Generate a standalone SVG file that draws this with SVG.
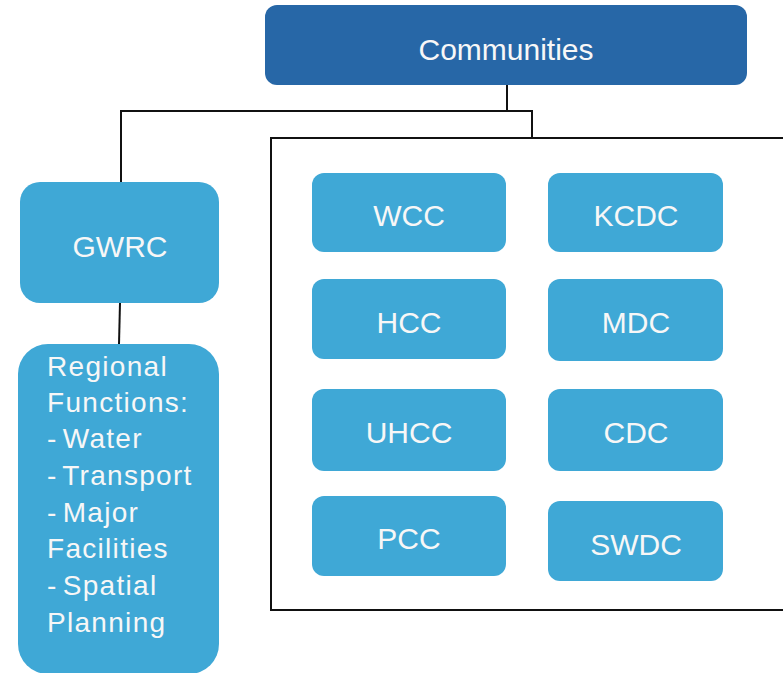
<svg xmlns="http://www.w3.org/2000/svg" width="783" height="673" viewBox="0 0 783 673">
<style>
.lb{fill:#3fa8d6}
.db{fill:#2767a7}
.t{font-family:"Liberation Sans",Arial,sans-serif;font-size:30px;fill:#f7f7f7;text-anchor:middle}
.rt{font-family:"Liberation Sans",Arial,sans-serif;font-size:28px;fill:#f7f7f7;letter-spacing:1.3px;word-spacing:-4px}
.ln{stroke:#111;stroke-width:2;fill:none}
</style>
<rect width="783" height="673" fill="#fff"/>
<g id="connectors">
<polyline class="ln" points="507,85 507,111"/>
<polyline class="ln" points="121,182 121,111 532,111 532,138"/>
<line class="ln" x1="120" y1="303" x2="119" y2="344"/>
</g>
<g id="frame">
<rect x="271" y="138" width="530" height="472" fill="none" stroke="#111" stroke-width="2"/>
</g>
<g id="communities">
<rect class="db" x="265" y="5" width="482" height="80" rx="12"/>
<text class="t" x="506" y="60">Communities</text>
</g>
<g id="gwrc">
<rect class="lb" x="20" y="182" width="199" height="121" rx="20"/>
<text class="t" x="120" y="257">GWRC</text>
</g>
<g id="regional">
<rect class="lb" x="18" y="344" width="201" height="330" rx="30"/>
<text class="rt" x="47" y="376">Regional</text>
<text class="rt" x="47" y="412">Functions:</text>
<text class="rt" x="47" y="448">- Water</text>
<text class="rt" x="47" y="485">- Transport</text>
<text class="rt" x="47" y="522">- Major</text>
<text class="rt" x="47" y="558">Facilities</text>
<text class="rt" x="47" y="595">- Spatial</text>
<text class="rt" x="47" y="632">Planning</text>
</g>
<g id="wcc">
<rect class="lb" x="312" y="173" width="194" height="79" rx="12"/>
<text class="t" x="409" y="226">WCC</text>
</g>
<g id="kcdc">
<rect class="lb" x="548" y="173" width="175" height="79" rx="12"/>
<text class="t" x="636" y="226">KCDC</text>
</g>
<g id="hcc">
<rect class="lb" x="312" y="279" width="194" height="80" rx="12"/>
<text class="t" x="409" y="333">HCC</text>
</g>
<g id="mdc">
<rect class="lb" x="548" y="279" width="175" height="82" rx="12"/>
<text class="t" x="636" y="333">MDC</text>
</g>
<g id="uhcc">
<rect class="lb" x="312" y="389" width="194" height="82" rx="12"/>
<text class="t" x="409" y="443">UHCC</text>
</g>
<g id="cdc">
<rect class="lb" x="548" y="389" width="175" height="82" rx="12"/>
<text class="t" x="636" y="443">CDC</text>
</g>
<g id="pcc">
<rect class="lb" x="312" y="496" width="194" height="80" rx="12"/>
<text class="t" x="409" y="549">PCC</text>
</g>
<g id="swdc">
<rect class="lb" x="548" y="501" width="175" height="80" rx="12"/>
<text class="t" x="636" y="555">SWDC</text>
</g>
</svg>
